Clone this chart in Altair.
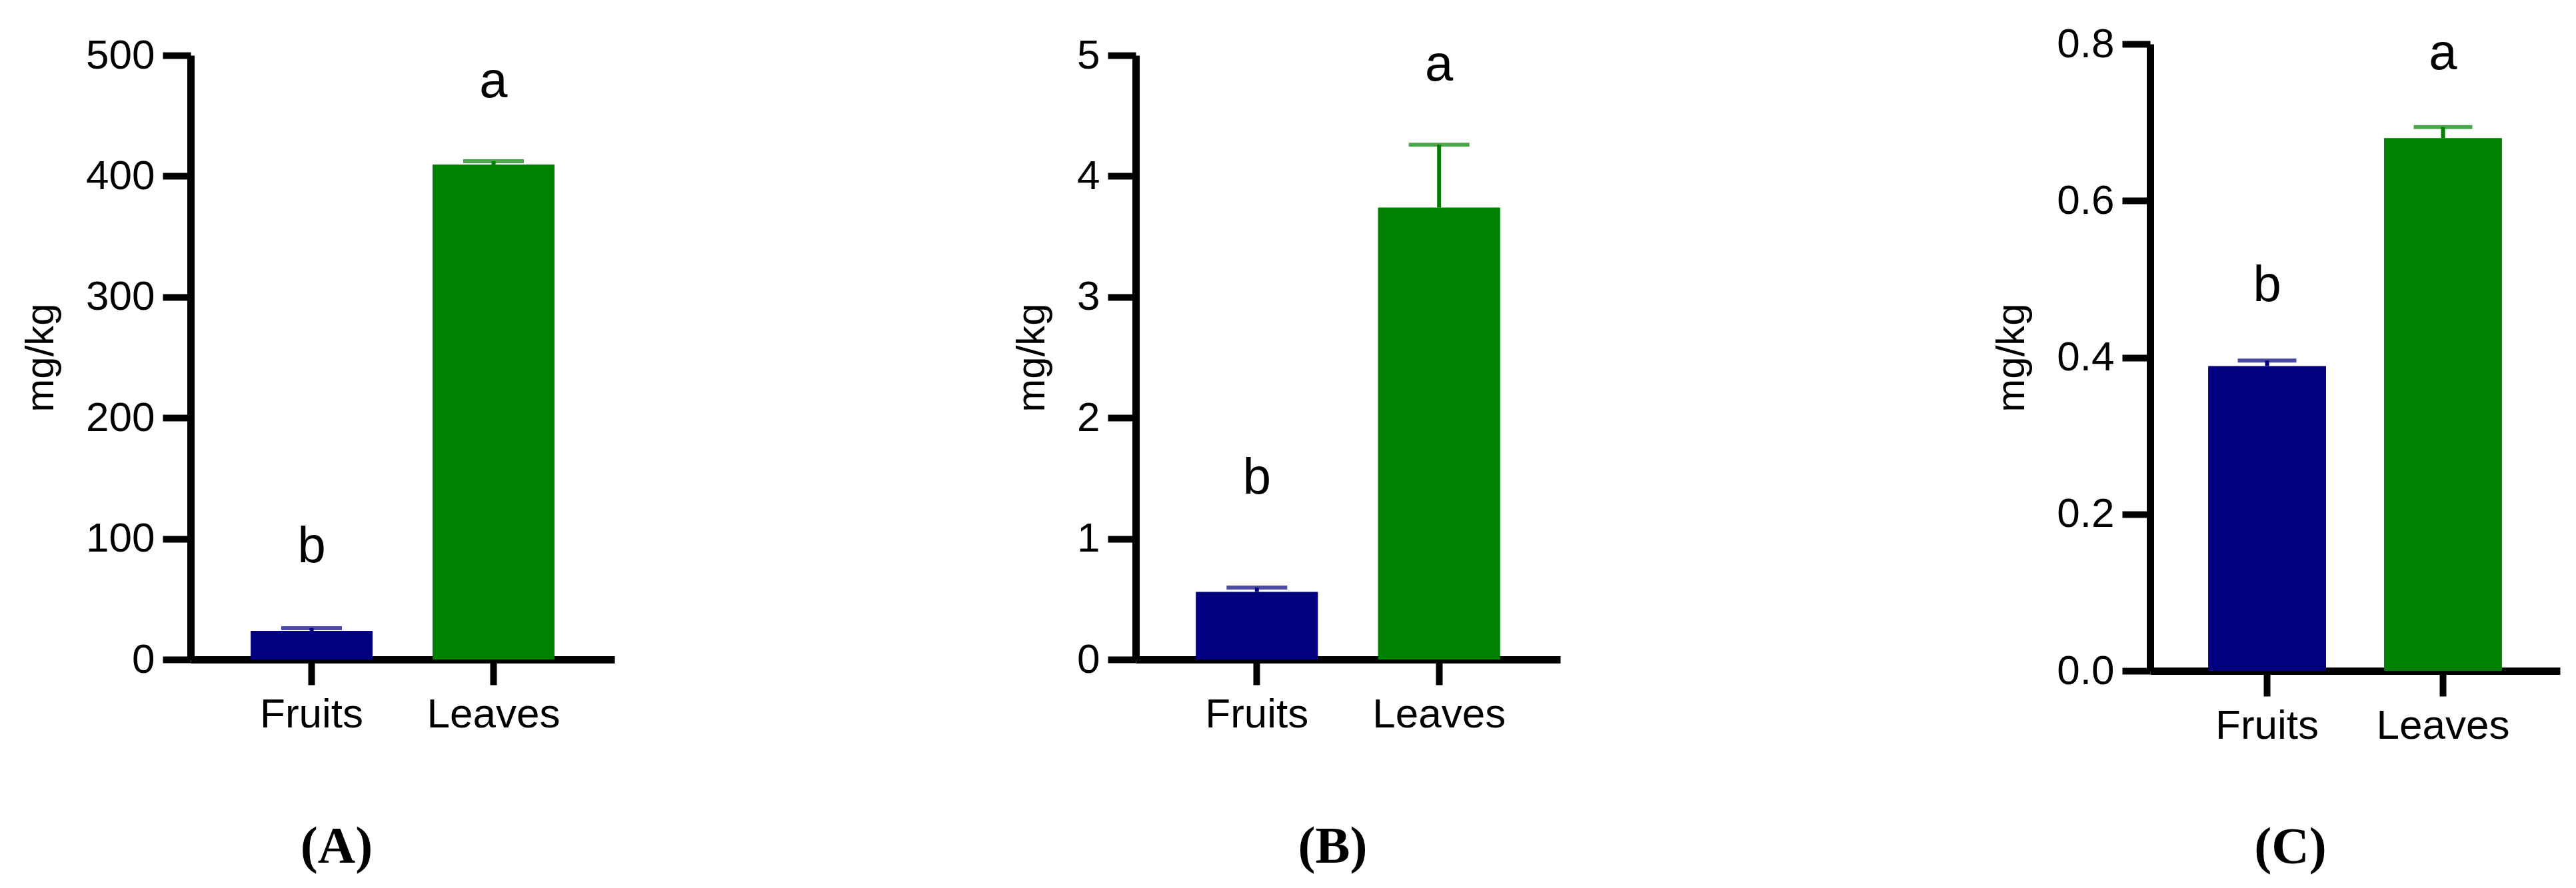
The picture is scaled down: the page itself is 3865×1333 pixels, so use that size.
import altair as alt
import pandas as pd

# ---- data ----
categories = ["Fruits", "Leaves"]
bar_colors = ["#000080", "#008000"]
letters = ["b", "a"]

a_mean = [23.7, 409.6]
a_err = [2.2, 2.7]
a_letter_y = [93, 478]
a_ticks = [0, 100, 200, 300, 400, 500]

b_mean = [0.56, 3.74]
b_err = [0.035, 0.52]
b_letter_y = [1.50, 4.92]
b_ticks = [0, 1, 2, 3, 4, 5]

c_mean = [0.389, 0.680]
c_err = [0.007, 0.014]
c_letter_y = [0.491, 0.787]
c_ticks = [0.0, 0.2, 0.4, 0.6, 0.8]

panel_labels = ["(A)", "(B)", "(C)"]
y_title = "mg/kg"

FONT = "Liberation Sans"


def panel(mean, err, letter_y, ticks, fmt, label, width, height, cap, title_dx, title_offset):
    df = pd.DataFrame({
        "tissue": categories,
        "mean": mean,
        "upper": [m + e for m, e in zip(mean, err)],
        "letter": letters,
        "letter_y": letter_y,
    })
    x = alt.X("tissue:N", sort=categories, title=None,
              scale=alt.Scale(paddingInner=0.33, paddingOuter=0.33),
              axis=alt.Axis(labelAngle=0, tickSize=38, labelPadding=14, labelLimit=1000,
                            domainWidth=11, tickWidth=10, domainColor="black",
                            tickColor="black"))

    def Y(field):
        return alt.Y(field, title=y_title,
                     scale=alt.Scale(domain=[ticks[0], ticks[-1]], nice=False, zero=True),
                     axis=alt.Axis(values=ticks, format=fmt, tickSize=42,
                                   labelPadding=12, titlePadding=36,
                                   domainWidth=11, tickWidth=10, domainColor="black",
                                   tickColor="black"))

    color = alt.Color("tissue:N", scale=alt.Scale(domain=categories, range=bar_colors),
                      legend=None)
    base = alt.Chart(df)
    bars = base.mark_bar().encode(x=x, y=Y("mean:Q"), color=color)
    stem = base.mark_rule(strokeWidth=6).encode(x=x, y=Y("mean:Q"), y2="upper:Q", color=color)
    capm = base.mark_tick(thickness=6, size=cap).encode(x=x, y=Y("upper:Q"), color=color)
    txt = base.mark_text(fontSize=76, font=FONT, baseline="middle", color="black").encode(
        x=x, y=Y("letter_y:Q"), text="letter:N")
    return alt.layer(bars, stem, capm, txt).properties(
        width=width, height=height,
        title=alt.TitleParams(label, orient="bottom", anchor="middle", frame="group",
                              dx=title_dx, offset=title_offset, baseline="top"),
    )


pA = panel(a_mean, a_err, a_letter_y, a_ticks, "d", panel_labels[0], 636, 907, 91, -99, 130)
pB = panel(b_mean, b_err, b_letter_y, b_ticks, "d", panel_labels[1], 637, 907, 91, -23, 130)
pC = panel(c_mean, c_err, c_letter_y, c_ticks, ".1f", panel_labels[2], 615, 941, 88, -97, 114)


def spacer(w):
    return alt.Chart(pd.DataFrame({"v": [0]})).mark_point(opacity=0).encode(
        x=alt.X("v:Q", axis=None), y=alt.Y("v:Q", axis=None)
    ).properties(width=w, height=10)


chart = alt.hconcat(pA, spacer(782), pB, spacer(885), pC,
                    spacing=0, bounds="flush", center=True).properties(
    padding={"left": 23, "top": 27, "right": 5, "bottom": 5}
).configure_view(stroke=None).configure_axis(
    labelFont=FONT, labelFontSize=62, labelColor="black",
    titleFont=FONT, titleFontSize=60, titleFontWeight="normal", titleColor="black",
    grid=False,
).configure_title(
    font="Liberation Serif", fontSize=78, fontWeight="bold", color="black"
)

chart.save("out.html", embed_options={"renderer": "svg", "actions": False})
